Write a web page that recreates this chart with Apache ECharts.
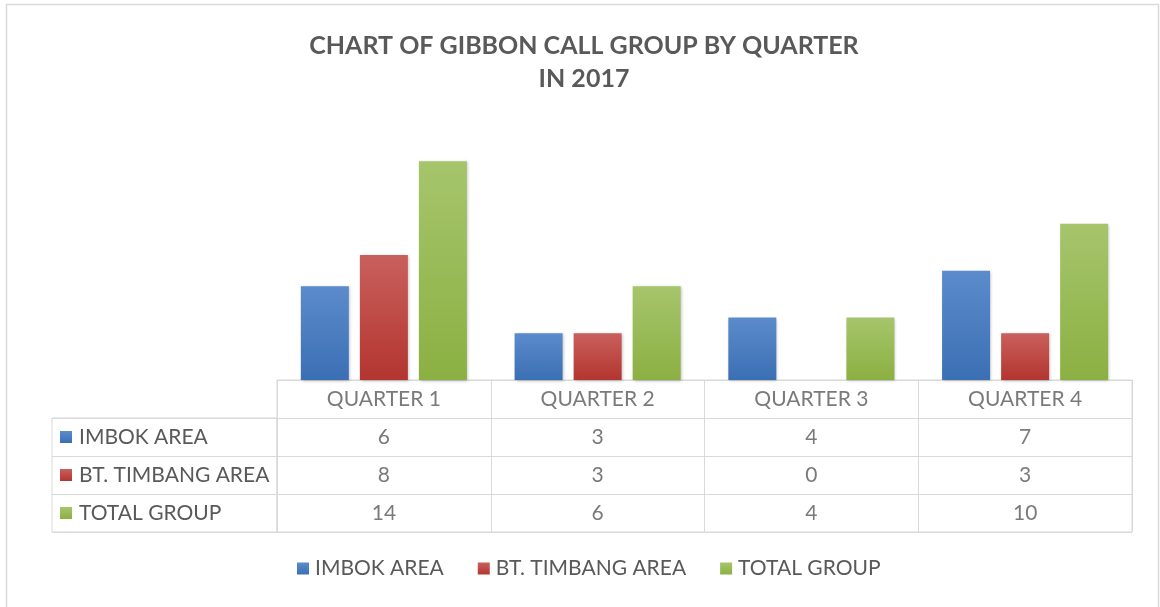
<!DOCTYPE html>
<html><head><meta charset="utf-8">
<script src="https://cdn.jsdelivr.net/npm/echarts@6/dist/echarts.min.js"></script>
<style>html,body{margin:0;padding:0;background:#fff}#c{width:1160px;height:607px}</style>
</head><body><div id="c"></div>
<script>
const categories = ['QUARTER 1', 'QUARTER 2', 'QUARTER 3', 'QUARTER 4'];
const seriesNames = ['IMBOK AREA', 'BT. TIMBANG AREA', 'TOTAL GROUP'];
const imbokArea = [6, 3, 4, 7];
const btTimbangArea = [8, 3, 0, 3];
const totalGroup = [14, 6, 4, 10];
const titleLines = ['CHART OF GIBBON CALL GROUP BY QUARTER', 'IN 2017'];

const seriesValues = [imbokArea, btTimbangArea, totalGroup];
const colors = [
  ['#5b8bcb', '#3b6fb4'],
  ['#c9605d', '#b3352f'],
  ['#a6c56c', '#8bb042']
];
const solid = ['#4a7ebf', '#c0504d', '#9bbb59'];
const FONT = 'Lato';
const TXT = '#595959';
const LINE = '#d9d9d9';
const FS = 21;

function grad(c) {
  return new echarts.graphic.LinearGradient(0, 0, 0, 1, [{offset: 0, color: c[0]}, {offset: 1, color: c[1]}]);
}

const rowNames = ['HEADER'].concat(seriesNames);

const barSeries = seriesNames.map((n, i) => ({
  name: n, type: 'bar', xAxisIndex: 0, yAxisIndex: 0,
  data: seriesValues[i], barWidth: 48, barGap: '23%',
  itemStyle: {color: grad(colors[i]), shadowColor: 'rgba(0,0,0,0.25)', shadowBlur: 3, shadowOffsetX: 1, shadowOffsetY: 1},
  emphasis: {disabled: true}
}));

const cellData = [];
categories.forEach((c, i) => {
  cellData.push({value: [i, 0], name: c});
  seriesValues.forEach((arr, r) => {
    cellData.push({value: [i, r + 1], name: String(arr[i])});
  });
});

const tableSeries = {
  type: 'scatter', xAxisIndex: 1, yAxisIndex: 1, symbolSize: 0,
  data: cellData, silent: true,
  label: {show: true, position: 'inside', formatter: p => p.name, color: TXT, fontFamily: FONT, fontSize: FS}
};

const rich = {t: {color: TXT, fontFamily: FONT, fontSize: FS, padding: [0, 0, 0, 7]}};
seriesNames.forEach((n, i) => { rich['s' + i] = {width: 12, height: 12, backgroundColor: grad(colors[i])}; });

const chart = echarts.init(document.getElementById('c'), null, {renderer: 'canvas'});
chart.setOption({
  backgroundColor: '#ffffff',
  animation: false,
  color: solid,
  title: {
    text: titleLines.join('\n'), left: 579, top: 24, textAlign: 'center',
    textStyle: {fontFamily: FONT, fontWeight: 'bold', fontSize: 25, color: TXT, lineHeight: 33}
  },
  legend: {
    bottom: 23, left: 292, itemWidth: 12, itemHeight: 12, itemGap: 34,
    icon: 'rect',
    textStyle: {fontFamily: FONT, fontSize: FS, color: TXT, padding: [0, 0, 0, 1]},
    data: seriesNames
  },
  graphic: [{type: 'rect', shape: {x: 6.5, y: 4.5, width: 1152, height: 620}, style: {fill: 'none', stroke: LINE, lineWidth: 1.5}, silent: true}],
  grid: [
    {left: 277, right: 28, top: 130, height: 250},
    {left: 277, right: 28, top: 380, height: 152, show: true, borderColor: LINE, borderWidth: 1},
    {left: 52, width: 225, top: 418, height: 114, show: true, borderColor: LINE, borderWidth: 1}
  ],
  xAxis: [
    {gridIndex: 0, type: 'category', data: categories, axisLine: {show: true, lineStyle: {color: LINE}}, axisTick: {show: false}, axisLabel: {show: false}},
    {gridIndex: 1, type: 'category', data: categories, axisLine: {show: false}, axisTick: {show: false}, axisLabel: {show: false},
      splitLine: {show: true, interval: 0, lineStyle: {color: LINE, width: 1}}},
    {gridIndex: 2, type: 'value', show: false}
  ],
  yAxis: [
    {gridIndex: 0, type: 'value', min: 0, max: 16, show: false},
    {gridIndex: 1, type: 'category', inverse: true, data: rowNames, axisLine: {show: false}, axisTick: {show: false},
      splitLine: {show: true, interval: 0, lineStyle: {color: LINE, width: 1}},
      axisLabel: {show: true, align: 'left', margin: 217, interval: 0,
        formatter: (v, idx) => idx === 0 ? '' : '{s' + (idx - 1) + '|}{t|' + v + '}', rich: rich}},
    {gridIndex: 2, type: 'category', inverse: true, data: seriesNames, axisLine: {show: false}, axisTick: {show: false}, axisLabel: {show: false},
      splitLine: {show: true, interval: 0, lineStyle: {color: LINE, width: 1}}}
  ],
  series: barSeries.concat([tableSeries])
});
</script></body></html>
